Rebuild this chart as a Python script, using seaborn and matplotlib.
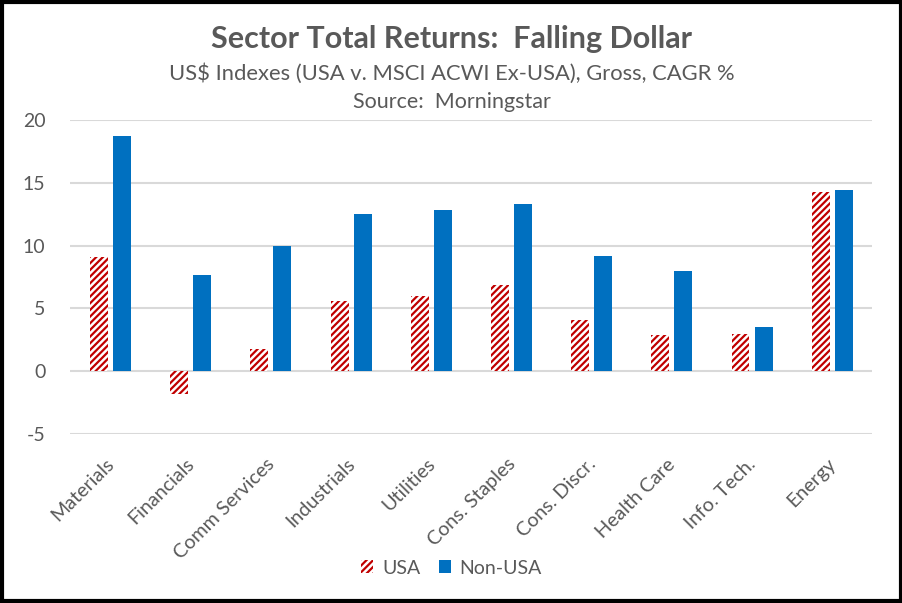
import pandas as pd
import matplotlib.pyplot as plt
import matplotlib.transforms as mtransforms
import seaborn as sns
from matplotlib.patches import Patch

sectors = ["Materials", "Financials", "Comm Services", "Industrials", "Utilities",
           "Cons. Staples", "Cons. Discr.", "Health Care", "Info. Tech.", "Energy"]
usa = [9.1, -1.8, 1.8, 5.6, 6.0, 6.9, 4.1, 2.9, 3.0, 14.3]
non_usa = [18.7, 7.7, 10.0, 12.5, 12.8, 13.3, 9.2, 8.0, 3.5, 14.4]

df = pd.DataFrame({"Sector": sectors, "USA": usa, "Non-USA": non_usa})
df_plot = df.melt(id_vars="Sector", var_name="Region", value_name="Return")

sns.set_style("white")
plt.rcParams["font.family"] = ["Lato", "DejaVu Sans"]
plt.rcParams["axes.unicode_minus"] = False
plt.rcParams["hatch.linewidth"] = 1.6

grey = "#595959"
red = "#C00000"
blue = "#0070C0"

fig = plt.figure(figsize=(9.03, 6.03), dpi=100)
ax = fig.add_axes([0.078, 0.28, 0.888, 0.521])

sns.barplot(data=df_plot, x="Sector", y="Return", hue="Region",
            palette={"USA": "white", "Non-USA": blue},
            width=0.575, gap=0.22, ax=ax, legend=False, saturation=1)

for bar in ax.containers[0]:
    bar.set_facecolor("white")
    bar.set_edgecolor(red)
    bar.set_hatch("/////")
    bar.set_linewidth(0)
for bar in ax.containers[1]:
    bar.set_linewidth(0)

ax.set_ylim(-5, 20)
ax.set_yticks([-5, 0, 5, 10, 15, 20])
ax.set_xlim(-0.5, 9.5)
ax.yaxis.grid(True, color="#D9D9D9", linewidth=1.5)
ax.set_axisbelow(True)
sns.despine(ax=ax, left=True, bottom=True)
ax.set_xlabel("")
ax.set_ylabel("")
ax.tick_params(axis="y", labelsize=14, colors=grey, pad=18, length=0)
ax.tick_params(axis="x", labelsize=14.2, colors=grey, length=0, pad=24)
plt.setp(ax.get_xticklabels(), rotation=45, ha="right", va="bottom", rotation_mode="anchor")
# nudge rotated labels to the right, like Excel places them
shift = mtransforms.ScaledTranslation(5 / 72, 0, fig.dpi_scale_trans)
for lbl in ax.get_xticklabels():
    lbl.set_transform(lbl.get_transform() + shift)

fig.text(0.5, 0.935, "Sector Total Returns:  Falling Dollar", ha="center", va="center",
         fontsize=22, fontweight="bold", color=grey)
fig.text(0.5, 0.878, "US$ Indexes (USA v. MSCI ACWI Ex-USA), Gross, CAGR %", ha="center",
         va="center", fontsize=15.8, color=grey)
fig.text(0.5, 0.831, "Source:  Morningstar", ha="center", va="center", fontsize=15.5, color=grey)

handles = [Patch(facecolor="white", edgecolor=red, hatch="/////", linewidth=0, label="USA"),
           Patch(facecolor=blue, linewidth=0, label="Non-USA")]
fig.legend(handles=handles, loc="center", bbox_to_anchor=(0.5, 0.058), ncol=2, frameon=False,
           fontsize=14, labelcolor=grey, handlelength=0.62, handleheight=0.62,
           handletextpad=0.45, columnspacing=0.95)

fig.patches.append(plt.Rectangle((0.002, 0.003), 0.996, 0.994, transform=fig.transFigure,
                                 fill=False, edgecolor="black", linewidth=3))

fig.savefig("out.png", dpi=100)
